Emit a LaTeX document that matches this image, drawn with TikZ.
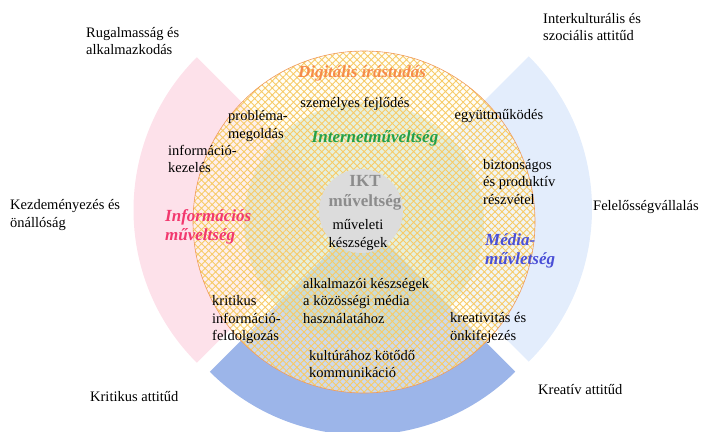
\documentclass[tikz,border=0pt]{standalone}
\usepackage{fontspec}
\setmainfont{Liberation Serif}
\usepackage{xcolor}
\usetikzlibrary{patterns.meta}
\definecolor{pinksec}{HTML}{FDE1EA}
\definecolor{lightsec}{HTML}{E3EDFC}
\definecolor{bluesec}{HTML}{9CB5E9}
\definecolor{hatchcol}{HTML}{F7CB68}
\definecolor{rimcol}{HTML}{F09A5A}
\definecolor{innercol}{HTML}{C8E0BE}
\definecolor{iktcol}{HTML}{DCDCDC}
\definecolor{digcol}{HTML}{F68B4A}
\definecolor{netcol}{HTML}{24A048}
\definecolor{infcol}{HTML}{F2386E}
\definecolor{medcol}{HTML}{4A4FD6}
\definecolor{greytxt}{HTML}{8C8C8C}

\begin{document}
\begin{tikzpicture}[x=1pt, y=-1pt,
  every node/.style={inner sep=0pt, font=\fontsize{14.5}{17.5}\selectfont},
  lbl/.style={anchor=west, align=left},
  ttl/.style={font=\fontsize{17}{19.5}\selectfont\bfseries\itshape}]
\useasboundingbox (0,0) rectangle (703,431);

% sectors behind the circle
\fill[pinksec] (349.5,210) -- ++(135:216) arc (135:225:216) -- cycle;
\fill[lightsec] (376,209) -- ++(-45:216) arc (-45:45:216) -- cycle;
\fill[bluesec] (362.5,219) -- ++(45:216) arc (45:135:216) -- cycle;

% digital literacy circle
\fill[yellow!6, opacity=0.5] (364,222) circle (171);
\fill[innercol, opacity=0.45] (364,222) circle (120);
\fill[pattern={Hatch[angle=45, distance=5pt, line width=0.9pt]}, pattern color=hatchcol] (364,222) circle (171);
\draw[rimcol, line width=0.6pt] (364,222) circle (171);
\fill[iktcol] (361,211) circle (42);

% outer attitudes
\node[lbl] (rugalmas) at (86,41) {Rugalmasság és\\alkalmazkodás};
\node[lbl] (interkult) at (543,27) {Interkulturális és\\szociális attitűd};
\node[lbl] (kezdem) at (10,215) {Kezdeményezés és\\önállóság};
\node[lbl] (felelos) at (593,207) {Felelősségvállalás};
\node[lbl] (kritatt) at (90,397) {Kritikus attitűd};
\node[lbl] (kreatt) at (538,390) {Kreatív attitűd};

% literacies
\node[ttl, text=digcol] (digit) at (362,73) {Digitális írástudás};
\node[ttl, text=netcol] (internet) at (375,138) {Internetműveltség};
\node[ttl, text=infcol, lbl] (infomuv) at (165,227) {Információs\\műveltség};
\node[ttl, text=medcol, lbl] (mediamuv) at (485,251) {Média-\\művletség};
\node[font=\fontsize{17}{20}\selectfont\bfseries, text=greytxt, align=center] (ikt) at (365,193) {IKT\\műveltség};

% skills
\node (szemely) at (355,104) {személyes fejlődés};
\node[lbl] (problema) at (228,126) {probléma-\\megoldás};
\node[lbl] (infokez) at (168,159) {információ-\\kezelés};
\node (egyutt) at (499,116) {együttműködés};
\node[lbl] (bizton) at (483,182) {biztonságos\\és produktív\\részvétel};
\node[align=center] (muveleti) at (358,235) {műveleti\\készségek};
\node[lbl] (alkalm) at (303,301) {alkalmazói készségek\\a közösségi média\\használatához};
\node[lbl] (kritinfo) at (212,320) {kritikus\\információ-\\feldolgozás};
\node[lbl] (kreativ) at (450,328) {kreativitás és\\önkifejezés};
\node[lbl] (kultura) at (309,364) {kultúrához kötődő\\kommunikáció};
\end{tikzpicture}
\end{document}
